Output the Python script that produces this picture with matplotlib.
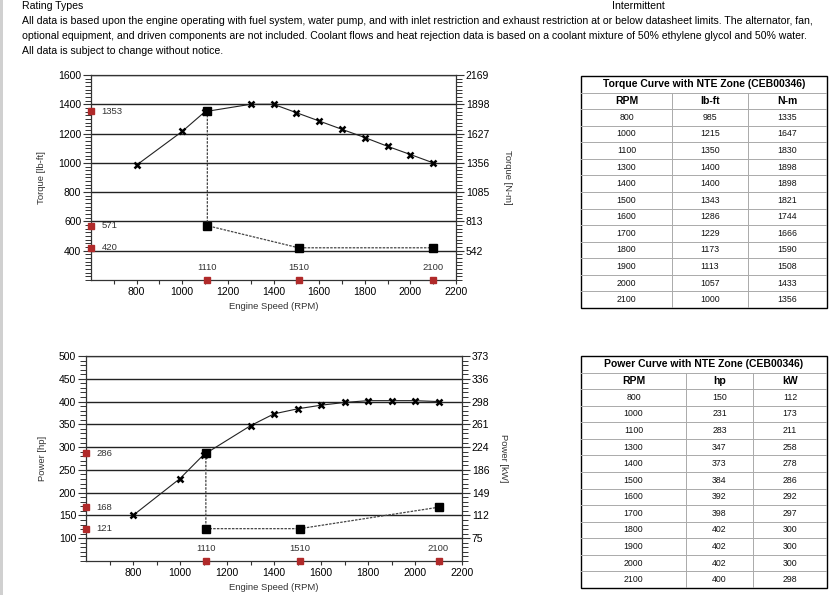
import matplotlib
matplotlib.use("Agg")
import matplotlib.pyplot as plt
from matplotlib import ticker
from matplotlib.patches import Rectangle

plt.rcParams['font.family'] = ['Liberation Sans', 'DejaVu Sans']

# data
RPM = [800, 1000, 1100, 1300, 1400, 1500, 1600, 1700, 1800, 1900, 2000, 2100]
TORQUE_LBFT = [985, 1215, 1350, 1400, 1400, 1343, 1286, 1229, 1173, 1113, 1057, 1000]
TORQUE_NM = [1335, 1647, 1830, 1898, 1898, 1821, 1744, 1666, 1590, 1508, 1433, 1356]
POWER_HP = [150, 231, 283, 347, 373, 384, 392, 398, 402, 402, 402, 400]
POWER_KW = [112, 173, 211, 258, 278, 286, 292, 297, 300, 300, 300, 298]

NTE_RPM_MARKS = [1110, 1510, 2100]
NTE_TORQUE_RPM = [1110, 1110, 1510, 2100]
NTE_TORQUE = [1353, 571, 420, 420]
NTE_TORQUE_MARKS = [1353, 571, 420]
NTE_POWER_RPM = [1110, 1110, 1510, 2100]
NTE_POWER = [286, 121, 121, 168]
NTE_POWER_MARKS = [286, 168, 121]

NM_PER_LBFT = 1.35582
KW_PER_HP = 0.7457

HEADER = [
    "All data is based upon the engine operating with fuel system, water pump, and with inlet restriction and exhaust restriction at or below datasheet limits. The alternator, fan,",
    "optional equipment, and driven components are not included. Coolant flows and heat rejection data is based on a coolant mixture of 50% ethylene glycol and 50% water.",
    "All data is subject to change without notice.",
]

RED = '#b02a2a'
W, H = 836, 595


def px_rect(x0, y0, x1, y1):
    return [x0 / W, 1 - y1 / H, (x1 - x0) / W, (y1 - y0) / H]


def draw_chart(fig, rect, y, nte_x, nte_y, marks, ylim, major, minor, factor, left_label, right_label):
    ax = fig.add_axes(rect)
    ax.set_xlim(600, 2200)
    ax.set_ylim(*ylim)
    ax.set_xticks(range(800, 2201, 200))
    ax.set_xticks(range(700, 2200, 200), minor=True)
    ax.set_yticks(range(major[0], ylim[1] + 1, major[1]))
    ax.yaxis.set_minor_locator(ticker.MultipleLocator(minor))
    ax.tick_params(axis='x', which='both', length=3, width=0.8, pad=2, labelsize=7.5, color='#333')
    ax.tick_params(axis='y', which='major', length=6, width=0.8, pad=1, labelsize=7.5, color='#333')
    ax.tick_params(axis='y', which='minor', length=4, width=0.7, color='#333')
    for s in ax.spines.values():
        s.set_color('#333')
        s.set_linewidth(0.9)
    ax.yaxis.grid(True, which='major', color='#222', lw=1.0)
    ax.set_axisbelow(True)

    ax2 = ax.twinx()
    ax2.set_ylim(*ylim)
    ax2.set_yticks(range(major[0], ylim[1] + 1, major[1]))
    ax2.yaxis.set_minor_locator(ticker.MultipleLocator(minor))
    ax2.yaxis.set_major_formatter(ticker.FuncFormatter(lambda v, p: "{}".format(int(round(v * factor)))))
    ax2.tick_params(axis='y', which='major', length=6, width=0.8, pad=1, labelsize=7.5, color='#333')
    ax2.tick_params(axis='y', which='minor', length=4, width=0.7, color='#333')
    for s in ax2.spines.values():
        s.set_visible(False)

    ax.plot(RPM, y, color='#222', lw=0.8, marker='x', ms=4.5, mew=1.8, mec='black', zorder=4)
    ax.plot(nte_x, nte_y, color='#444', lw=0.9, ls=(0, (2, 1)), zorder=4)
    ax.plot(nte_x, nte_y, 's', color='black', ms=6, ls='none', zorder=5)

    ax.plot([600] * len(marks), marks, 's', color=RED, ms=5, clip_on=False, zorder=6)
    for v in marks:
        ax.annotate(str(v), (600, v), xytext=(7.5, 0), textcoords='offset points',
                    va='center', ha='left', fontsize=6.8, color='#333')
    ax.plot(NTE_RPM_MARKS, [ylim[0]] * len(NTE_RPM_MARKS), 's', color=RED, ms=5, clip_on=False, zorder=6)
    for r in NTE_RPM_MARKS:
        ax.annotate(str(r), (r, ylim[0]), xytext=(0, 6), textcoords='offset points',
                    va='bottom', ha='center', fontsize=6.8, color='#333')

    ax.text(0.5, -0.13, "Engine Speed (RPM)", transform=ax.transAxes, ha='center', va='center',
            fontsize=6.8, color='#333')
    ax.text(left_label[1], 0.5, left_label[0], transform=ax.transAxes, ha='center', va='center',
            rotation=90, fontsize=6.8, color='#333')
    ax.text(right_label[1], 0.5, right_label[0], transform=ax.transAxes, ha='center', va='center',
            rotation=-90, fontsize=6.8, color='#333')
    return ax


def draw_table(fig, rect, title, headers, columns, edges):
    tax = fig.add_axes(rect)
    n = len(columns[0]) + 2
    tax.set_xlim(0, 1)
    tax.set_ylim(n, 0)
    tax.axis('off')
    for r in range(1, n):
        tax.plot([0, 1], [r, r], color='#aaa', lw=0.7)
    for e in edges[1:-1]:
        tax.plot([e, e], [1, n], color='#aaa', lw=0.7)
    tax.add_patch(Rectangle((0, 0), 1, n, fill=False, ec='black', lw=1.0, clip_on=False))
    tax.text(0.5, 0.5, title, ha='center', va='center', fontsize=7.5, fontweight='bold')
    centers = [(edges[i] + edges[i + 1]) / 2 for i in range(len(edges) - 1)]
    for c, h in zip(centers, headers):
        tax.text(c, 1.5, h, ha='center', va='center', fontsize=7.5, fontweight='bold')
    for c, col in zip(centers, columns):
        for i, v in enumerate(col):
            tax.text(c, i + 2.5, str(v), ha='center', va='center', fontsize=6.3, color='#111')


fig = plt.figure(figsize=(W / 100, H / 100), dpi=100)
fig.add_artist(Rectangle((0, 0), 2.5 / W, 1, transform=fig.transFigure, color='#d0d0d0', lw=0))

fig.text(22 / W, 1 - 6 / H, "Rating Types", fontsize=7.6, va='center', ha='left')
fig.text(638 / W, 1 - 6 / H, "Intermittent", fontsize=7.6, va='center', ha='center')
for i, line in enumerate(HEADER):
    fig.text(22 / W, 1 - (20.5 + 15.3 * i) / H, line, fontsize=7.6, va='center', ha='left')

draw_chart(fig, px_rect(91, 75, 456, 280), TORQUE_LBFT, NTE_TORQUE_RPM, NTE_TORQUE, NTE_TORQUE_MARKS,
           (200, 1600), (400, 200), 25, NM_PER_LBFT, ("Torque [lb-ft]", -0.135), ("Torque [N-m]", 1.14))
draw_chart(fig, px_rect(86, 356, 462, 561), POWER_HP, NTE_POWER_RPM, NTE_POWER, NTE_POWER_MARKS,
           (50, 500), (100, 50), 10, KW_PER_HP, ("Power [hp]", -0.117), ("Power [kW]", 1.11))

draw_table(fig, px_rect(581, 76, 827, 308), "Torque Curve with NTE Zone (CEB00346)",
           ["RPM", "lb-ft", "N-m"], [RPM, TORQUE_LBFT, TORQUE_NM],
           [0, (672 - 581) / 246, (748 - 581) / 246, 1])
draw_table(fig, px_rect(581, 356, 827, 588), "Power Curve with NTE Zone (CEB00346)",
           ["RPM", "hp", "kW"], [RPM, POWER_HP, POWER_KW],
           [0, (686 - 581) / 246, (753 - 581) / 246, 1])

fig.savefig("out.png", dpi=100, facecolor='white')
